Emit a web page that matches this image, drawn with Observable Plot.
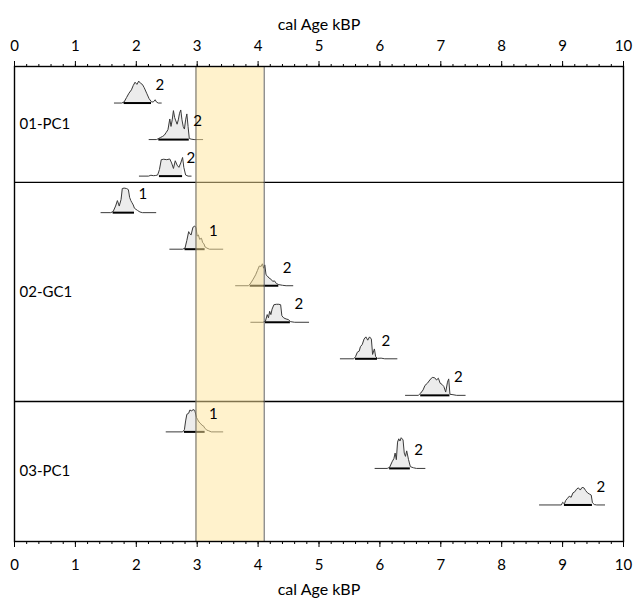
<!DOCTYPE html>
<html>
<head>
<meta charset="utf-8">
<script src="https://cdn.jsdelivr.net/npm/d3@7"></script>
<script src="https://cdn.jsdelivr.net/npm/@observablehq/plot@0.6"></script>
<style>
  html, body { margin: 0; padding: 0; background: #fff; }
</style>
</head>
<body>
<div id="chart"></div>
<script>
// Cores, top to bottom
const cores = ["01-PC1", "02-GC1", "03-PC1"];
// Core of each dated sample, in plotting order
const sampleCore = [0, 0, 0, 1, 1, 1, 1, 1, 1, 2, 2, 2];
// Number printed beside each distribution
const sampleLabel = ["2", "2", "2", "1", "1", "2", "2", "2", "2", "1", "2", "2"];
// Highlighted calibrated range of each sample (kBP)
const rangeLo = [1.80, 2.37, 2.38, 1.62, 2.80, 3.87, 4.12, 5.60, 6.67, 2.79, 6.16, 9.03];
const rangeHi = [2.25, 2.87, 2.76, 1.97, 3.13, 4.34, 4.53, 5.96, 7.15, 3.13, 6.50, 9.49];
// Calibrated probability curves: [age kBP, relative probability]
const curves = [
  [[1.64,0],[1.76,0],[1.80,0.05],[1.84,0.25],[1.88,0.45],[1.92,0.6],[1.95,0.8],[1.98,0.95],[2.01,0.85],[2.04,1.0],[2.07,0.9],[2.10,0.85],[2.13,0.7],[2.17,0.45],[2.21,0.2],[2.25,0.05],[2.28,0.05],[2.31,0.15],[2.33,0.05],[2.36,0],[2.41,0]],
  [[2.21,0],[2.33,0],[2.37,0.05],[2.40,0.1],[2.43,0.14],[2.46,0.2],[2.49,0.32],[2.52,0.45],[2.55,0.94],[2.57,0.6],[2.59,0.9],[2.61,1.32],[2.63,1.0],[2.65,0.85],[2.67,0.7],[2.69,0.9],[2.71,1.2],[2.73,1.35],[2.75,0.9],[2.77,0.6],[2.79,0.48],[2.81,0.9],[2.83,1.17],[2.85,0.6],[2.87,0.05],[2.90,0.02],[2.95,0],[3.09,0]],
  [[2.05,0],[2.20,0],[2.24,0.04],[2.28,0.02],[2.32,0.03],[2.35,0.05],[2.38,0.3],[2.41,0.75],[2.45,0.77],[2.50,0.75],[2.55,0.78],[2.58,0.6],[2.61,0.35],[2.64,0.7],[2.67,0.5],[2.70,0.4],[2.73,0.6],[2.76,0.85],[2.78,0.4],[2.81,0.05],[2.85,0],[2.90,0]],
  [[1.42,0],[1.58,0],[1.62,0.05],[1.66,0.3],[1.69,0.55],[1.72,0.3],[1.75,0.6],[1.77,1.1],[1.80,1.12],[1.84,1.1],[1.87,1.05],[1.89,0.7],[1.91,0.55],[1.93,0.45],[1.95,0.35],[1.97,0.2],[2.02,0.1],[2.06,0.03],[2.10,0],[2.32,0]],
  [[2.55,0],[2.76,0],[2.80,0.05],[2.83,0.4],[2.86,0.8],[2.88,0.7],[2.90,0.65],[2.93,1.0],[2.96,1.05],[2.98,1.0],[3.00,0.6],[3.02,0.65],[3.04,0.45],[3.07,0.5],[3.09,0.3],[3.11,0.25],[3.13,0.1],[3.16,0.05],[3.20,0],[3.42,0]],
  [[3.63,0],[3.84,0],[3.87,0.08],[3.92,0.3],[3.96,0.5],[3.99,0.7],[4.02,0.9],[4.05,0.88],[4.07,1.0],[4.09,0.8],[4.11,0.95],[4.13,0.5],[4.15,0.45],[4.18,0.35],[4.21,0.3],[4.24,0.2],[4.27,0.22],[4.30,0.1],[4.34,0.05],[4.40,0.02],[4.46,0],[4.57,0]],
  [[3.88,0],[4.08,0],[4.12,0.05],[4.15,0.35],[4.17,0.2],[4.19,0.5],[4.21,0.35],[4.23,0.6],[4.26,0.8],[4.30,0.82],[4.34,0.82],[4.37,0.8],[4.39,0.3],[4.42,0.2],[4.46,0.15],[4.50,0.12],[4.53,0.03],[4.60,0],[4.83,0]],
  [[5.35,0],[5.57,0],[5.60,0.1],[5.63,0.3],[5.66,0.35],[5.68,0.55],[5.71,0.65],[5.74,0.9],[5.77,1.0],[5.80,0.85],[5.83,1.0],[5.86,0.9],[5.88,0.2],[5.91,0.45],[5.93,0.1],[5.96,0.02],[6.02,0.03],[6.08,0],[6.28,0]],
  [[6.42,0],[6.63,0],[6.67,0.1],[6.71,0.25],[6.74,0.45],[6.78,0.55],[6.82,0.7],[6.86,0.82],[6.90,0.8],[6.93,0.7],[6.96,0.78],[6.99,0.55],[7.02,0.5],[7.05,0.4],[7.08,0.15],[7.11,0.6],[7.13,0.75],[7.15,0.05],[7.20,0.03],[7.26,0],[7.40,0]],
  [[2.49,0],[2.76,0],[2.79,0.1],[2.81,0.5],[2.83,0.8],[2.86,0.85],[2.88,1.0],[2.91,0.95],[2.93,1.02],[2.96,0.98],[2.99,0.65],[3.01,0.55],[3.03,0.45],[3.05,0.4],[3.08,0.3],[3.10,0.28],[3.13,0.15],[3.16,0.08],[3.19,0.05],[3.23,0],[3.42,0]],
  [[5.92,0],[6.12,0],[6.16,0.05],[6.20,0.3],[6.23,0.45],[6.25,0.7],[6.27,0.4],[6.29,1.2],[6.31,1.35],[6.33,1.25],[6.35,1.4],[6.38,1.3],[6.40,0.7],[6.42,0.55],[6.44,0.8],[6.47,0.4],[6.50,0.08],[6.55,0.03],[6.60,0],[6.74,0]],
  [[8.62,0],[8.98,0],[9.00,0.12],[9.03,0.05],[9.05,0.2],[9.08,0.3],[9.11,0.4],[9.14,0.35],[9.17,0.55],[9.20,0.6],[9.23,0.72],[9.26,0.78],[9.29,0.68],[9.32,0.8],[9.35,0.78],[9.38,0.65],[9.41,0.55],[9.44,0.5],[9.47,0.45],[9.49,0.1],[9.52,0.02],[9.56,0],[9.69,0]]
];
// Shaded interval (kBP)
const bandStart = 2.98;
const bandEnd = 4.10;
// Axis ticks
const majorTicks = d3.range(0, 11);
const minorTicks = d3.range(0, 50.5).map(i => i / 5);
const axisTitle = "cal Age kBP";

// Layout in row units: one row per sample, a little gap under each core's last sample
const peakRows = 0.6;
const dividerGap = 0.17;
const nRows = sampleCore.length + 1;

const points = curves.flatMap((c, i) =>
  c.map(([age, p]) => ({sample: i, row: i + 1, age, p, top: i + 1 - p * peakRows}))
);
const filled = points.filter(d => d.age >= rangeLo[d.sample] - 1e-6 && d.age <= rangeHi[d.sample] + 1e-6);
const samples = sampleCore.map((core, i) => ({
  row: i + 1, lo: rangeLo[i], hi: rangeHi[i], label: sampleLabel[i]
}));
const lastRow = cores.map((_, k) => d3.max(sampleCore.map((c, i) => c === k ? i + 1 : -1)));
const dividers = lastRow.slice(0, -1).map(r => r + dividerGap);
const panelBounds = [0, ...dividers, nRows];
const panels = cores.map((name, k) => ({name, mid: (panelBounds[k] + panelBounds[k + 1]) / 2}));

const chart = Plot.plot({
  width: 639,
  height: 601,
  marginLeft: 14,
  marginRight: 16,
  marginTop: 66,
  marginBottom: 60,
  style: {fontFamily: "Lato, 'Open Sans', sans-serif", fontSize: "15px", color: "#000", background: "#fff"},
  x: {domain: [0, 10]},
  y: {domain: [0, nRows], reverse: true, axis: null},
  marks: [
    // probability curves
    Plot.areaY(filled, {x: "age", y1: "row", y2: "top", z: "sample", fill: "#ececec", curve: "linear"}),
    Plot.line(points, {x: "age", y: "top", z: "sample", stroke: "#3a3a3a", strokeWidth: 1}),
    Plot.ruleY(samples, {y: "row", x1: "lo", x2: "hi", stroke: "#000", strokeWidth: 2}),
    // core dividers
    Plot.ruleY(dividers, {stroke: "#000", strokeWidth: 1.4}),
    // shaded interval
    Plot.rect([{x1: bandStart, x2: bandEnd}], {x1: "x1", x2: "x2", y1: 0, y2: nRows, fill: "#FFE699", fillOpacity: 0.5}),
    Plot.ruleX([bandStart, bandEnd], {stroke: "#606060", strokeWidth: 1}),
    // labels
    Plot.text(samples, {x: "hi", y: "row", text: "label", dx: 4, dy: -18, textAnchor: "start", fontSize: 15}),
    Plot.text(panels, {x: 0, y: "mid", text: "name", dx: 5, textAnchor: "start", fontSize: 15}),
    Plot.frame({stroke: "#000", strokeWidth: 1.4}),
    // axes
    Plot.axisX({anchor: "top", ticks: majorTicks, tickSize: 6, tickPadding: 10, label: null, fontSize: 15}),
    Plot.axisX({anchor: "top", ticks: minorTicks, tickSize: 3, tickFormat: () => "", label: null}),
    Plot.axisX({anchor: "bottom", ticks: majorTicks, tickSize: 6, tickPadding: 12, label: null, fontSize: 15}),
    Plot.axisX({anchor: "bottom", ticks: minorTicks, tickSize: 3, tickFormat: () => "", label: null}),
    Plot.text([axisTitle], {frameAnchor: "top", dy: -48, fontSize: 16}),
    Plot.text([axisTitle], {frameAnchor: "bottom", dy: 53, fontSize: 16})
  ]
});
document.getElementById("chart").appendChild(chart);
</script>
</body>
</html>
